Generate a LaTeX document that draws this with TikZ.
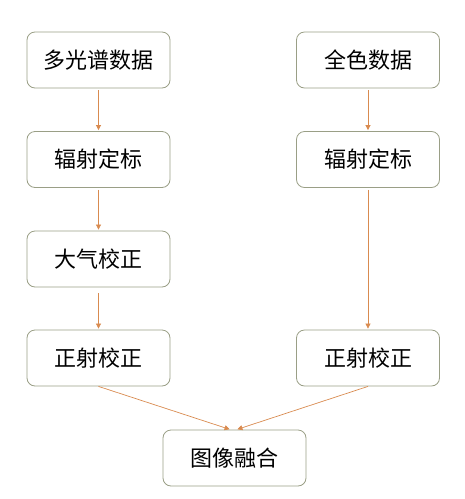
\documentclass[tikz,border=0pt]{standalone}
\usepackage{fontspec}
\newfontfamily\cjk{Noto Sans CJK SC}
\usetikzlibrary{arrows.meta}
\definecolor{boxline}{HTML}{9A9F86}
\definecolor{flowline}{HTML}{D98B50}
\begin{document}
\begin{tikzpicture}[x=1pt, y=-1pt,
        step box/.style={draw=boxline, line width=0.8pt, rounded corners=8pt, minimum width=143pt, minimum height=56pt, font=\cjk\fontsize{22}{26}\selectfont, fill=white},
        flow/.style={draw=flowline, line width=0.7pt, -{Triangle[length=5pt, width=5pt]}, shorten <=2pt, shorten >=1pt}]
        \useasboundingbox (0, 0) rectangle (465, 499);
        \node[style=step box] (ms)    at (98.5, 60)  {多光谱数据};
        \node[style=step box] (msrad) at (98.5, 159.5) {辐射定标};
        \node[style=step box] (atm)   at (98.5, 259) {大气校正};
        \node[style=step box] (msort) at (98.5, 358) {正射校正};
        \node[style=step box] (pan)    at (368, 60)  {全色数据};
        \node[style=step box] (panrad) at (368, 159.5) {辐射定标};
        \node[style=step box] (panort) at (368, 358) {正射校正};
        \node[style=step box] (fuse)  at (234.5, 458) {图像融合};
        
        \draw[flow] (ms) -- (msrad);
        \draw[flow] (msrad) -- (atm);
        \draw[flow, shorten <=6pt] (atm) -- (msort);
        \draw[flow] (pan) -- (panrad);
        \draw[flow] (panrad) -- (panort);
        \draw[flow, shorten <=0pt] (msort.south) -- ([xshift=-4pt]fuse.north);
        \draw[flow, shorten <=0pt] (panort.south) -- ([xshift=2pt]fuse.north);
    \end{tikzpicture}
\end{document}
